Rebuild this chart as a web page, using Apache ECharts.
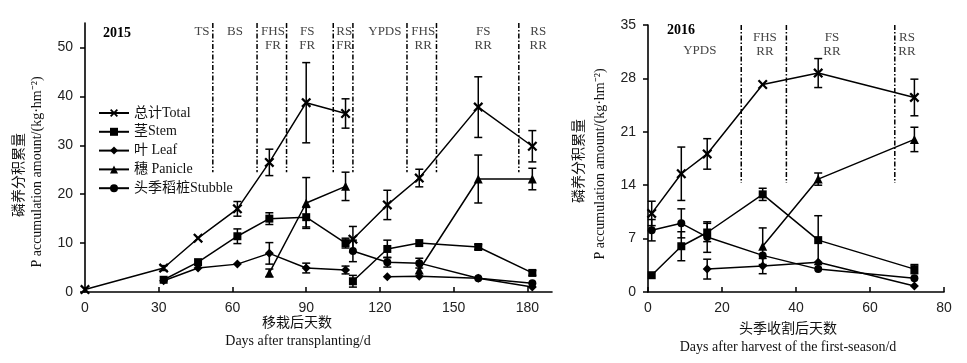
<!DOCTYPE html>
<html><head><meta charset="utf-8">
<script src="https://cdn.jsdelivr.net/npm/echarts@6/dist/echarts.min.js"></script>
<style>html,body{margin:0;padding:0;background:#fff}#c{width:967px;height:363px}</style>
</head><body><div id="c"></div>
<script>
// ---------- 2015 (days after transplanting) ----------
const days2015 = [0, 32, 46, 62, 75, 90, 106, 109, 123, 136, 160, 182];
const harvestIndex2015 = 6; // lines break after this index (first-season harvest)
const total2015   = [0.5, 4.9, 11.0, 17.0, 26.5, 38.7, 36.5, 10.8, 17.8, 23.3, 37.8, 29.8];
const totalErr2015= [0, 0.5, 0, 1.5, 2.7, 8.2, 3.0, 2.6, 3.0, 1.8, 6.2, 3.2];
const stem2015    = [null, 2.5, 6.1, 11.4, 15.0, 15.3, 10.0, 2.2, 8.8, 10.0, 9.2, 3.9];
const stemErr2015 = [0, 0, 0, 1.5, 1.2, 2.0, 1.0, 1.2, 1.8, 0, 0.5, 0.5];
const leaf2015    = [null, 2.3, 4.9, 5.7, 7.9, 4.9, 4.5, null, 3.1, 3.2, 2.8, 1.0];
const leafErr2015 = [0, 0, 0, 0, 2.2, 1.0, 0.8, 0, 0, 0, 0, 0];
const panicle2015 = [null, null, null, null, 3.9, 18.2, 21.6, null, null, 4.5, 23.1, 23.1];
const panicleErr2015 = [0, 0, 0, 0, 0.8, 5.2, 2.9, 0, 0, 0, 4.9, 2.2];
const stubble2015 = [null, null, null, null, null, null, null, 8.4, 6.1, 5.9, 2.8, 1.8];
const stubbleErr2015 = [0, 0, 0, 0, 0, 0, 0, 2.2, 1.0, 1.0, 0, 0];
const stageLineDays2015 = [52, 70, 82, 101, 109, 131, 143, 176.5];
const stageLineRange2015 = [24.5, 55];
const stageLabels2015 = ['TS', 'BS', 'FHS\nFR', 'FS\nFR', 'RS\nFR', 'YPDS', 'FHS\nRR', 'FS\nRR', 'RS\nRR'];
const stageLabelDays2015 = [47.6, 61, 76.5, 90.4, 105.5, 122, 137.6, 162, 184.4];
const stageLabelTop2015 = [54.6, 54.6, 54.6, 54.6, 54.6, 54.6, 54.6, 54.6, 54.6];
const xTicks2015 = [0, 30, 60, 90, 120, 150, 180];
const yTicks2015 = [0, 10, 20, 30, 40, 50];

// ---------- 2016 (days after harvest of first season) ----------
const days2016 = [1, 9, 16, 31, 46, 72];
const total2016   = [10.3, 15.5, 18.1, 27.2, 28.7, 25.5];
const totalErr2016= [1.6, 3.5, 2.0, 0, 1.9, 2.4];
const stem2016    = [2.2, 6.0, 7.8, 12.8, 6.8, 3.0];
const stemErr2016 = [0, 1.9, 1.2, 0.8, 3.2, 0.6];
const leaf2016    = [null, null, 3.0, 3.4, 3.9, 0.8];
const leafErr2016 = [0, 0, 1.3, 1.0, 0, 0];
const panicle2016 = [null, null, null, 6.0, 14.8, 20.0];
const panicleErr2016 = [0, 0, 0, 2.4, 0.8, 1.6];
const stubble2016 = [8.1, 9.0, 7.2, 4.8, 3.0, 1.8];
const stubbleErr2016 = [1.4, 1.9, 2.0, 0, 0, 0];
const stageLineDays2016 = [25.2, 37.4, 66.7];
const stageLineRange2016 = [14.3, 35];
const stageLabels2016 = ['YPDS', 'FHS\nRR', 'FS\nRR', 'RS\nRR'];
const stageLabelDays2016 = [14, 31.6, 49.7, 70];
const stageLabelTop2016 = [32.5, 34.3, 34.3, 34.3];
const xTicks2016 = [0, 20, 40, 60, 80];
const yTicks2016 = [0, 7, 14, 21, 28, 35];

const seriesNames = ['总计Total', '茎Stem', '叶 Leaf', '穗 Panicle', '头季稻桩Stubble'];

// ---------- styling ----------
const XMARK = 'path://M0,1.6L1.6,0L5,3.4L8.4,0L10,1.6L6.6,5L10,8.4L8.4,10L5,6.6L1.6,10L0,8.4L3.4,5Z';
const symbols = [XMARK, 'rect', 'diamond', 'triangle', 'circle'];
const symbolSizes = [10, 8, 9, 9, 8];
const SERIF = '"Liberation Serif","Noto Sans CJK SC",serif';
const SANS = '"Liberation Sans",Arial,sans-serif';
const CJK = '"Noto Sans CJK SC",sans-serif';

function linePts(days, vals, breakAfter) {
  const out = [];
  days.forEach((d, i) => {
    out.push([d, vals[i] == null ? '-' : vals[i]]);
    if (i === breakAfter) out.push([(d + days[i + 1]) / 2, '-']);
  });
  return out;
}
function errPts(days, valsList, errList) {
  const out = [];
  valsList.forEach((vals, k) => {
    const errs = errList[k];
    days.forEach((d, i) => {
      if (vals[i] != null && errs[i] > 0) out.push([d, vals[i] - errs[i], vals[i] + errs[i]]);
    });
  });
  return out;
}
function errRender(params, api) {
  const x = api.value(0), lo = api.value(1), hi = api.value(2);
  const a = api.coord([x, hi]), b = api.coord([x, lo]);
  const w = 4, st = { stroke: '#000', lineWidth: 1.5 };
  return { type: 'group', children: [
    { type: 'line', shape: { x1: a[0], y1: a[1], x2: b[0], y2: b[1] }, style: st },
    { type: 'line', shape: { x1: a[0] - w, y1: a[1], x2: a[0] + w, y2: a[1] }, style: st },
    { type: 'line', shape: { x1: b[0] - w, y1: b[1], x2: b[0] + w, y2: b[1] }, style: st }
  ]};
}
function vlineRender(params, api) {
  const x = api.value(0);
  const a = api.coord([x, api.value(2)]), b = api.coord([x, api.value(1)]);
  return { type: 'line', shape: { x1: a[0], y1: a[1], x2: b[0], y2: b[1] },
    style: { stroke: '#000', lineWidth: 1.5, lineDash: [5, 2, 1.5, 2] } };
}
function labelRenderer(labels) {
  return function (params, api) {
    const p = api.coord([api.value(0), api.value(1)]);
    return { type: 'text', x: p[0], y: p[1],
      style: { text: labels[params.dataIndex], align: 'center', verticalAlign: 'top',
        fontFamily: SERIF, fontSize: 13, lineHeight: 14, fill: '#444' } };
  };
}

function panelSeries(idx, days, vals, errs, breakAfter, lineDays, lineRange, labels, labelDays, labelTop) {
  const s = [];
  s.push({ type: 'custom', xAxisIndex: idx, yAxisIndex: idx, renderItem: vlineRender, silent: true,
    data: lineDays.map(d => [d, lineRange[0], lineRange[1]]), z: 1 });
  s.push({ type: 'custom', xAxisIndex: idx, yAxisIndex: idx, renderItem: labelRenderer(labels), silent: true,
    data: labelDays.map((d, i) => [d, labelTop[i]]), z: 1 });
  s.push({ type: 'custom', xAxisIndex: idx, yAxisIndex: idx, renderItem: errRender, silent: true,
    encode: { x: 0, y: [1, 2] }, data: errPts(days, vals, errs), z: 2 });
  vals.forEach((v, k) => {
    s.push({ type: 'line', name: seriesNames[k], xAxisIndex: idx, yAxisIndex: idx,
      data: linePts(days, v, breakAfter), symbol: symbols[k], symbolSize: symbolSizes[k],
      showAllSymbol: true, connectNulls: false,
      lineStyle: { color: '#000', width: 1.5 }, itemStyle: { color: '#000', borderWidth: 0 }, z: 3 });
  });
  return s;
}

const axisLine = { show: true, lineStyle: { color: '#000', width: 1.6 } };
const tickLabel = { color: '#222', fontFamily: SANS, fontSize: 14 };

function xAxis(idx, max, interval, ticks) {
  return { type: 'value', gridIndex: idx, min: 0, max: max, interval: interval,
    axisLine: axisLine, splitLine: { show: false },
    axisTick: { show: true, inside: true, length: 5, customValues: ticks, lineStyle: { color: '#000', width: 1.5 } },
    axisLabel: Object.assign({ margin: 9, customValues: ticks }, tickLabel) };
}
function yAxis(idx, max, interval, ticks) {
  return { type: 'value', gridIndex: idx, min: 0, max: max, interval: interval,
    axisLine: axisLine, splitLine: { show: false },
    axisTick: { show: true, inside: false, length: 5, customValues: ticks, lineStyle: { color: '#000', width: 1.5 } },
    axisLabel: Object.assign({ margin: 12, customValues: ticks }, tickLabel) };
}

function txt(x, y, text, font, size, opts) {
  return Object.assign({ type: 'text', x: x, y: y,
    style: Object.assign({ text: text, fontFamily: font, fontSize: size, fill: '#111',
      align: 'center', verticalAlign: 'middle' }, (opts && opts.style) || {}) },
    (opts && opts.el) || {});
}

const chart = echarts.init(document.getElementById('c'), null, { renderer: 'canvas' });
chart.setOption({
  animation: false,
  backgroundColor: '#fff',
  grid: [
    { left: 85, top: 23, width: 467, height: 269 },
    { left: 648, top: 25, width: 296, height: 267 }
  ],
  xAxis: [xAxis(0, 190, 30, xTicks2015), xAxis(1, 80, 20, xTicks2016)],
  yAxis: [yAxis(0, 55, 10, yTicks2015), yAxis(1, 35, 7, yTicks2016)],
  legend: {
    data: seriesNames, orient: 'vertical', left: 98, top: 106, padding: 0,
    itemWidth: 30, itemHeight: 10, itemGap: 4.8, selectedMode: false,
    textStyle: { fontFamily: SERIF, fontSize: 14, color: '#111', padding: [0, 0, 0, 0] }
  },
  series: [].concat(
    panelSeries(0, days2015, [total2015, stem2015, leaf2015, panicle2015, stubble2015],
      [totalErr2015, stemErr2015, leafErr2015, panicleErr2015, stubbleErr2015], harvestIndex2015,
      stageLineDays2015, stageLineRange2015, stageLabels2015, stageLabelDays2015, stageLabelTop2015),
    panelSeries(1, days2016, [total2016, stem2016, leaf2016, panicle2016, stubble2016],
      [totalErr2016, stemErr2016, leafErr2016, panicleErr2016, stubbleErr2016], -1,
      stageLineDays2016, stageLineRange2016, stageLabels2016, stageLabelDays2016, stageLabelTop2016)
  ),
  graphic: [
    txt(103, 33, '2015', SERIF, 14, { style: { align: 'left', fontWeight: 'bold', fill: '#000' } }),
    txt(667, 30, '2016', SERIF, 14, { style: { align: 'left', fontWeight: 'bold', fill: '#000' } }),
    txt(297, 322, '移栽后天数', CJK, 14),
    txt(298, 341, 'Days after transplanting/d', SERIF, 14),
    txt(788, 328, '头季收割后天数', CJK, 14),
    txt(788, 347, 'Days after harvest of the first-season/d', SERIF, 14),
    txt(18, 175, '磷养分积累量', CJK, 14, { el: { rotation: Math.PI / 2 } }),
    txt(37, 172, 'P accumulation amount/(kg·hm⁻²)', SERIF, 14, { el: { rotation: Math.PI / 2 } }),
    txt(578, 161, '磷养分积累量', CJK, 14, { el: { rotation: Math.PI / 2 } }),
    txt(600, 164, 'P accumulation amount/(kg·hm⁻²)', SERIF, 14, { el: { rotation: Math.PI / 2 } })
  ]
});
</script>
</body></html>
